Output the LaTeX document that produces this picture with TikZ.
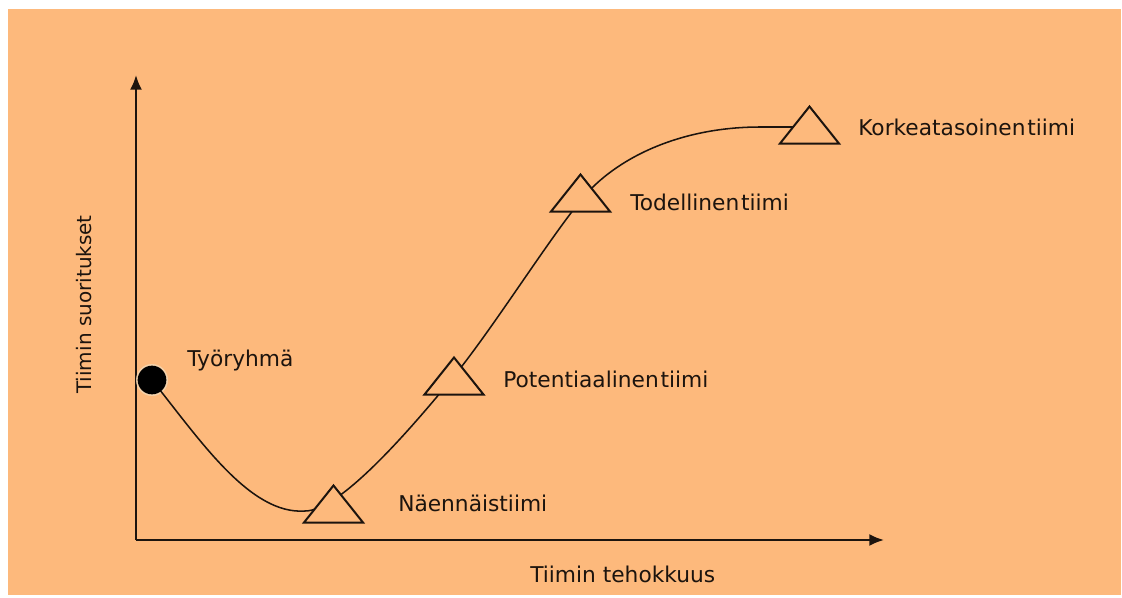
\documentclass[tikz,border=0pt]{standalone}
\usepackage{fontspec}
\setmainfont{DejaVu Sans}
\usetikzlibrary{arrows.meta}
\definecolor{bgorange}{RGB}{253,185,124}
\definecolor{halo}{RGB}{243,214,178}
\definecolor{ink}{RGB}{28,20,14}
\begin{document}
\begin{tikzpicture}[x=0.75pt,y=-0.75pt,
  lbl/.style={anchor=base west,inner sep=0,text=ink,font=\fontsize{16.3pt}{19pt}\selectfont},
  axisline/.style={draw=ink,line width=1.6pt,-{Latex[length=11pt,width=9pt]}},
  curveline/.style={draw=ink,line width=1.15pt},
  tristyle/.style={draw=ink,fill=bgorange,line width=1.5pt,line join=miter},
  pics/tri/.style={code={\draw[tristyle] (-29.5,12.5) -- (0,-24.5) -- (29.5,12.5) -- cycle;}}
]
% background
\fill[white] (0,0) rectangle (1122,597);
\useasboundingbox (0,0) rectangle (1122,597);
\fill[bgorange] (8,9) rectangle (1121,595);

% axes
\coordinate (origin) at (136,540);
\coordinate (ytip) at (136,75);
\coordinate (xtip) at (884,540);
\draw[axisline] (origin) -- (ytip);
\draw[axisline] (origin) -- (xtip);

% curve points
\coordinate (c0) at (152,380);
\coordinate (c1) at (305,511);
\coordinate (c2) at (455,375);
\coordinate (c3) at (581,200);
\coordinate (c4) at (760,127);
\coordinate (c5) at (809,127);

\fill[halo,opacity=0.85] (c0) circle (16);
\draw[curveline] (c0) .. controls (200,440) and (250,515) .. (c1)
  .. controls (340,511) and (410,430) .. (c2)
  .. controls (495,325) and (545,245) .. (c3)
  .. controls (615,158) and (680,127) .. (c4) -- (c5);

% triangles
\pic at (333.5,510) {tri};
\pic at (454,382) {tri};
\pic at (580.5,199) {tri};
\pic at (809.5,131) {tri};

% start dot
\node[circle,fill=black,minimum size=21.5,inner sep=0] (dot) at (c0) {};

% labels
\node[lbl] (l0) at (187,366) {Työryhmä};
\node[lbl] (l1) at (398,511) {Näennäistiimi};
\node[lbl] (l2) at (503,387) {Potentiaalinen\hspace{0.08em}tiimi};
\node[lbl] (l3) at (630,210) {Todellinen\hspace{0.08em}tiimi};
\node[lbl] (l4) at (858,135) {Korkeatasoinen\hspace{0.08em}tiimi};
\node[lbl] (xl) at (530,582) {Tiimin tehokkuus};
\node[lbl,rotate=90,font=\fontsize{15pt}{18pt}\selectfont] (yl) at (91,394) {Tiimin suoritukset};
\end{tikzpicture}
\end{document}
